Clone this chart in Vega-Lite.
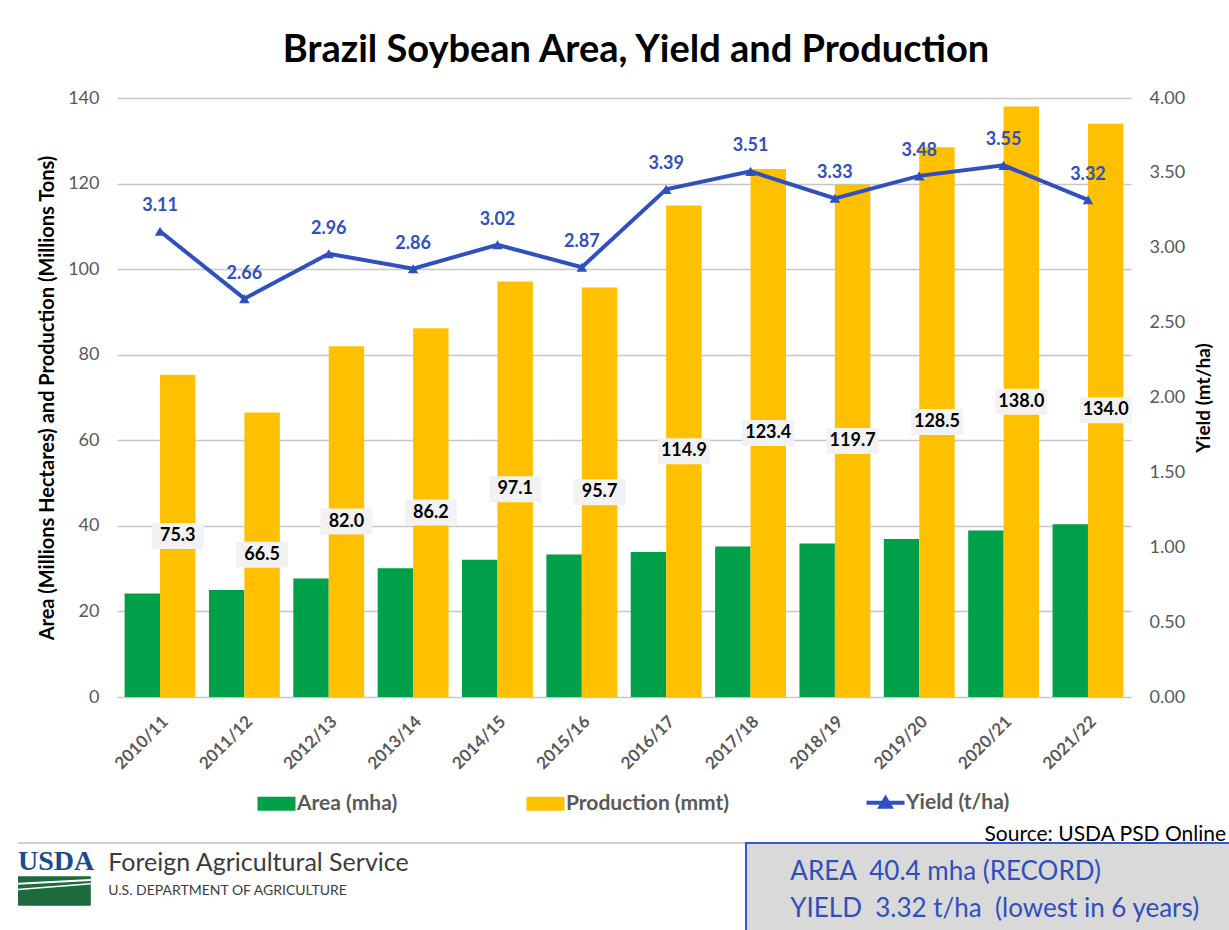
{
  "$schema": "https://vega.github.io/schema/vega-lite/v6.json",
  "background": "white",
  "padding": {"left": 17, "top": 32, "right": 0, "bottom": 0},
  "spacing": 51,
  "config": {"view": {"stroke": null}, "font": "Lato"},
  "vconcat": [
    {
      "spacing": 0,
      "bounds": "flush",
      "hconcat": [
        {
          "width": 99,
          "height": 599,
          "data": {"values": []},
          "mark": {"type": "point"}
        },
        {
          "width": 1014,
          "height": 599,
          "title": {"text": "Brazil Soybean Area, Yield and Production", "font": "Lato", "fontSize": 38, "fontWeight": "bold", "color": "#000000", "anchor": "middle", "offset": 19, "dx": 12},
          "data": {"values": [
            {"season": "2010/11", "area": 24.2, "production": 75.3, "yield": 3.11},
            {"season": "2011/12", "area": 25.0, "production": 66.5, "yield": 2.66},
            {"season": "2012/13", "area": 27.7, "production": 82.0, "yield": 2.96},
            {"season": "2013/14", "area": 30.1, "production": 86.2, "yield": 2.86},
            {"season": "2014/15", "area": 32.1, "production": 97.1, "yield": 3.02},
            {"season": "2015/16", "area": 33.3, "production": 95.7, "yield": 2.87},
            {"season": "2016/17", "area": 33.9, "production": 114.9, "yield": 3.39},
            {"season": "2017/18", "area": 35.15, "production": 123.4, "yield": 3.51},
            {"season": "2018/19", "area": 35.9, "production": 119.7, "yield": 3.33},
            {"season": "2019/20", "area": 36.95, "production": 128.5, "yield": 3.48},
            {"season": "2020/21", "area": 38.9, "production": 138.0, "yield": 3.55},
            {"season": "2021/22", "area": 40.4, "production": 134.0, "yield": 3.32}
          ]},
          "layer": [
            {
              "transform": [{"fold": ["area", "production"], "as": ["series", "value"]}],
              "mark": {"type": "bar"},
              "encoding": {
                "x": {"field": "season", "type": "nominal", "sort": null,
                  "scale": {"paddingInner": 0.16, "paddingOuter": 0.09},
                  "axis": {"title": null, "labelAngle": -45, "labelFontSize": 17, "labelFontWeight": "bold", "labelColor": "#595959", "ticks": false, "domain": false, "labelPadding": 16}},
                "xOffset": {"field": "series", "type": "nominal", "scale": {"domain": ["area", "production"]}},
                "y": {"field": "value", "type": "quantitative", "scale": {"domain": [0, 140], "nice": false},
                  "axis": {"orient": "left", "values": [0, 20, 40, 60, 80, 100, 120, 140], "title": "Area (Millions Hectares) and Production (Millions Tons)", "titleFontSize": 20, "titleFontWeight": "bold", "titleColor": "#000000", "titlePadding": 10, "labelFontSize": 18, "labelColor": "#595959", "labelPadding": 18, "ticks": false, "domain": false, "grid": true, "gridColor": "#c6c6c6", "gridWidth": 1.5}},
                "color": {"field": "series", "type": "nominal",
                  "scale": {"domain": ["area", "production", "yield"], "range": ["#00A04B", "#FFC000", "#2F50BE"]},
                  "legend": {"title": null, "orient": "none", "legendX": 248, "legendY": 694, "direction": "horizontal", "columnPadding": 128,
                    "labelExpr": "datum.label == 'area' ? 'Area (mha)' : datum.label == 'production' ? 'Production (mmt)' : 'Yield (t/ha)'",
                    "labelFontSize": 21, "labelFontWeight": "bold", "labelColor": "#595959", "labelOffset": 10, "labelLimit": 0, "symbolSize": 1444,
                    "encode": {"symbols": {"update": {
                      "shape": {"signal": "datum.value == 'yield' ? 'M-1,0H1M-0.26,0.22L0,-0.22L0.26,0.22Z' : 'M-1,-0.37H1V0.37H-1Z'"},
                      "fill": {"signal": "datum.value == 'area' ? '#00A04B' : datum.value == 'production' ? '#FFC000' : '#2F50BE'"},
                      "stroke": {"signal": "datum.value == 'yield' ? '#2F50BE' : 'transparent'"},
                      "strokeWidth": {"signal": "datum.value == 'yield' ? 4 : 0"},
                      "opacity": {"value": 1}
                    }}}}}
              }
            },
            {
              "transform": [{"fold": ["production"], "as": ["series", "value"]}],
              "layer": [
                {
                  "mark": {"type": "point", "shape": "M-1,-0.5H1V0.5H-1Z", "size": 2704, "filled": true, "fill": "#F2F2F2", "opacity": 1, "strokeWidth": 0},
                  "encoding": {
                    "x": {"field": "season", "type": "nominal", "sort": null},
                    "xOffset": {"field": "series", "type": "nominal", "scale": {"domain": ["area", "production"]}},
                    "y": {"field": "value", "type": "quantitative", "scale": {"domain": [0, 280], "nice": false}, "axis": null}
                  }
                },
                {
                  "mark": {"type": "text", "fontSize": 18, "fontWeight": "bold", "color": "#000000", "baseline": "middle"},
                  "encoding": {
                    "x": {"field": "season", "type": "nominal", "sort": null},
                    "xOffset": {"field": "series", "type": "nominal", "scale": {"domain": ["area", "production"]}},
                    "y": {"field": "value", "type": "quantitative", "scale": {"domain": [0, 280], "nice": false}, "axis": null},
                    "text": {"field": "value", "type": "quantitative", "format": ".1f"}
                  }
                }
              ]
            },
            {
              "mark": {"type": "line", "strokeWidth": 4, "point": {"shape": "triangle-up", "size": 110, "filled": true, "opacity": 1}},
              "encoding": {
                "x": {"field": "season", "type": "nominal", "sort": null},
                "y": {"field": "yield", "type": "quantitative", "scale": {"domain": [0, 4], "nice": false},
                  "axis": {"orient": "right", "values": [0, 0.5, 1, 1.5, 2, 2.5, 3, 3.5, 4], "format": ".2f", "title": "Yield (mt/ha)", "titleAngle": 270, "titleBaseline": "top", "titleFontSize": 19, "titleFontWeight": "bold", "titleColor": "#000000", "titlePadding": 10, "labelFontSize": 18, "labelColor": "#595959", "labelPadding": 18, "ticks": false, "domain": false, "grid": false}},
                "color": {"datum": "yield"}
              }
            },
            {
              "mark": {"type": "text", "fontSize": 18, "fontWeight": "bold", "color": "#2F50BE", "dy": -25, "baseline": "middle"},
              "encoding": {
                "x": {"field": "season", "type": "nominal", "sort": null},
                "y": {"field": "yield", "type": "quantitative", "scale": {"domain": [0, 4], "nice": false}, "axis": null},
                "text": {"field": "yield", "type": "quantitative", "format": ".2f"}
              }
            }
          ],
          "resolve": {"scale": {"y": "independent"}}
        }
      ]
    },
    {
      "spacing": 0,
      "bounds": "flush",
      "hconcat": [
        {
          "width": 728,
          "height": 95,
          "data": {"values": [{"logo": "USDA", "agency": "Foreign Agricultural Service", "dept": "U.S. DEPARTMENT OF AGRICULTURE"}]},
          "layer": [
            {
              "mark": {"type": "rule", "color": "#d0d0d0", "strokeWidth": 2},
              "encoding": {"y": {"datum": 0, "type": "quantitative", "scale": {"domain": [0, 100], "reverse": true, "nice": false}, "axis": null}}
            },
            {
              "mark": {"type": "rect", "color": "#1d6b3c"},
              "encoding": {
                "x": {"datum": 0, "type": "quantitative", "scale": {"domain": [0, 100], "nice": false}, "axis": null},
                "x2": {"datum": 10},
                "y": {"datum": 35, "type": "quantitative", "scale": {"domain": [0, 100], "reverse": true, "nice": false}, "axis": null},
                "y2": {"datum": 66}
              }
            },
            {
              "mark": {"type": "rule", "color": "#ffffff", "strokeWidth": 2},
              "encoding": {
                "x": {"datum": 0, "type": "quantitative", "scale": {"domain": [0, 100], "nice": false}, "axis": null},
                "x2": {"datum": 10},
                "y": {"datum": 43, "type": "quantitative", "scale": {"domain": [0, 100], "reverse": true, "nice": false}, "axis": null},
                "y2": {"datum": 39}
              }
            },
            {
              "mark": {"type": "rule", "color": "#ffffff", "strokeWidth": 1.5},
              "encoding": {
                "x": {"datum": 0, "type": "quantitative", "scale": {"domain": [0, 100], "nice": false}, "axis": null},
                "x2": {"datum": 10},
                "y": {"datum": 49, "type": "quantitative", "scale": {"domain": [0, 100], "reverse": true, "nice": false}, "axis": null},
                "y2": {"datum": 43}
              }
            },
            {
              "mark": {"type": "text", "align": "left", "baseline": "middle", "font": "Liberation Serif", "fontWeight": "bold", "fontSize": 28, "color": "#1a4b8c"},
              "encoding": {
                "x": {"datum": 0, "type": "quantitative", "scale": {"domain": [0, 100], "nice": false}, "axis": null},
                "y": {"datum": 20, "type": "quantitative", "scale": {"domain": [0, 100], "reverse": true, "nice": false}, "axis": null},
                "text": {"field": "logo"}
              }
            },
            {
              "mark": {"type": "text", "align": "left", "baseline": "alphabetic", "fontSize": 25, "color": "#3c3c3c"},
              "encoding": {
                "x": {"datum": 12.4, "type": "quantitative", "scale": {"domain": [0, 100], "nice": false}, "axis": null},
                "y": {"datum": 29, "type": "quantitative", "scale": {"domain": [0, 100], "reverse": true, "nice": false}, "axis": null},
                "text": {"field": "agency"}
              }
            },
            {
              "mark": {"type": "text", "align": "left", "baseline": "middle", "fontSize": 14, "color": "#3c3c3c"},
              "encoding": {
                "x": {"datum": 12.4, "type": "quantitative", "scale": {"domain": [0, 100], "nice": false}, "axis": null},
                "y": {"datum": 51, "type": "quantitative", "scale": {"domain": [0, 100], "reverse": true, "nice": false}, "axis": null},
                "text": {"field": "dept"}
              }
            }
          ]
        },
        {
          "width": 492,
          "height": 95,
          "title": {"text": "Source: USDA PSD Online", "anchor": "end", "font": "Lato", "fontSize": 21, "fontWeight": "normal", "color": "#000000", "offset": -2, "dx": -12},
          "view": {"fill": "#D9D9D9", "stroke": "#3556C8", "strokeWidth": 2},
          "data": {"values": [{"line": "AREA\u00a0\u00a040.4 mha (RECORD)"}, {"line": "YIELD\u00a0\u00a03.32 t/ha\u00a0\u00a0(lowest in 6 years)"}]},
          "mark": {"type": "text", "align": "left", "baseline": "middle", "fontSize": 26, "color": "#2F4FBF"},
          "encoding": {
            "x": {"datum": 9, "type": "quantitative", "scale": {"domain": [0, 100], "nice": false}, "axis": null},
            "y": {"field": "line", "type": "nominal", "sort": null, "axis": null, "scale": {"padding": 0.78}},
            "text": {"field": "line"}
          }
        }
      ]
    }
  ]
}
